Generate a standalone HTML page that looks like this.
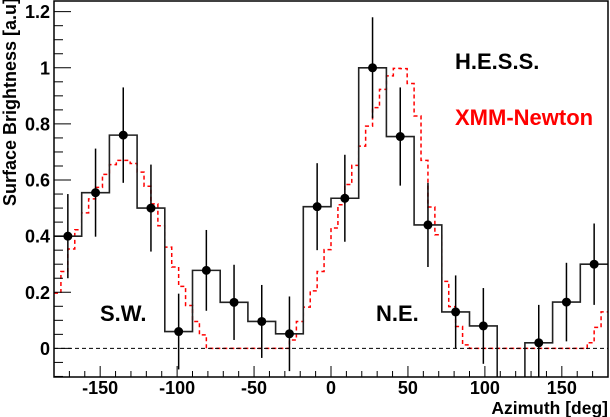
<!DOCTYPE html>
<html><head><meta charset="utf-8">
<style>
html,body{margin:0;padding:0;background:#fff;}
svg{display:block;font-family:"Liberation Sans",Arial,sans-serif;font-weight:bold;}
</style></head>
<body>
<svg id="chart" width="610" height="417" viewBox="0 0 610 417" xmlns="http://www.w3.org/2000/svg">
<defs><clipPath id="pc"><rect x="54" y="1" width="554" height="376"/></clipPath></defs>
<g id="xmm" clip-path="url(#pc)"></g>
<g id="hess" clip-path="url(#pc)"></g>
<g id="axes"></g>
<text transform="translate(16,206) rotate(-90)" font-size="18" fill="#000">Surface Brightness [a.u]</text>
<text x="608" y="414" text-anchor="end" font-size="17.5" fill="#000">Azimuth [deg]</text>
<text x="100" y="321" font-size="22" fill="#000">S.W.</text>
<text x="376" y="321" font-size="22" fill="#000">N.E.</text>
<text x="455" y="69" font-size="22" fill="#000">H.E.S.S.</text>
<text x="455" y="125" font-size="22" fill="#ff0000">XMM-Newton</text>
</svg>
<script>
const hessCenters=[-171,-153,-135,-117,-99,-81,-63,-45,-27,-9,9,27,45,63,81,99,117,135,153,171];
const hessValues=[0.40,0.555,0.76,0.50,0.06,0.278,0.164,0.096,0.052,0.505,0.535,1.0,0.755,0.44,0.13,0.08,-0.3,0.02,0.165,0.30];
const hessErrors=[0.15,0.157,0.17,0.155,0.135,0.144,0.134,0.13,0.133,0.155,0.155,0.18,0.175,0.15,0.13,0.135,0,0.135,0.14,0.145];
const xmmValues=[0.197,0.274,0.354,0.423,0.483,0.533,0.574,0.620,0.655,0.670,0.670,0.659,0.628,0.578,0.515,0.437,0.361,0.290,0.221,0.153,0.096,0.048,
0,0,0,0,0,0,0,0,0,0,0,0,
0.03,0.096,0.147,0.205,0.274,0.352,0.429,0.512,0.584,0.652,0.721,0.792,0.858,0.923,0.971,0.998,0.997,0.944,0.828,0.670,0.504,0.405,0.239,0.149,0.078,0.0125,
0,0,0,0,0,0,0,0,0,0,0,0,0,0,0,0,0,
0.02,0.075,0.13];
const xTicks=[-150,-100,-50,0,50,100,150];
const yTicks=[0,0.2,0.4,0.6,0.8,1,1.2];
const yTickLabels=["0","0.2","0.4","0.6","0.8","1","1.2"];

const NS="http://www.w3.org/2000/svg";
const X0=54,X1=608,Y0=377,Y1=1;
const XMIN=-180,XMAX=180,YMIN=-0.102,YMAX=1.238;
function sx(v){return X0+(v-XMIN)/(XMAX-XMIN)*(X1-X0);}
function sy(v){return Y0-(v-YMIN)/(YMAX-YMIN)*(Y0-Y1);}
function mk(tag,attrs,parent){const e=document.createElementNS(NS,tag);for(const k in attrs)e.setAttribute(k,attrs[k]);parent.appendChild(e);return e;}

const axes=document.getElementById('axes');
const zl=mk('line',{x1:X0,x2:X1,y1:sy(0),y2:sy(0),stroke:'#000','stroke-width':1,'stroke-dasharray':'4,3'},axes);


const fr=mk('rect',{x:X0,y:Y1,width:X1-X0,height:Y0-Y1,fill:'none',stroke:'#000','stroke-width':1.5},axes);


for(let v=-170;v<=170;v+=10){
  const major=(v%50===0);
  const t=mk('line',{x1:sx(v),x2:sx(v),y1:Y0,y2:Y0-(major?11:6),stroke:'#000','stroke-width':1},axes);
  
  
}
xTicks.forEach(v=>{
  const t=mk('text',{x:sx(v),y:394,'text-anchor':'middle','font-size':18,fill:'#000'},axes);
  t.textContent=String(v);
  
  
});
for(let i=-2;i<=24;i++){
  const v=i*0.05;
  const major=(i%4===0);
  const t=mk('line',{x1:X0,x2:X0+(major?17:9),y1:sy(v),y2:sy(v),stroke:'#000','stroke-width':1},axes);
  
  
}
yTicks.forEach((v,i)=>{
  const t=mk('text',{x:50,y:sy(v)+6.5,'text-anchor':'end','font-size':18,fill:'#000'},axes);
  t.textContent=yTickLabels[i];
  
  
});

const xg=document.getElementById('xmm');
const bw=360/xmmValues.length;
let d='';
xmmValues.forEach((v,i)=>{
  const a=sx(-180+i*bw),b=sx(-180+(i+1)*bw),y=sy(v);
  d+=(i===0?'M':'L')+a.toFixed(2)+','+y.toFixed(2)+'L'+b.toFixed(2)+','+y.toFixed(2);
});
const xp=mk('path',{d:d,fill:'none',stroke:'#ff0000','stroke-width':1.5,'stroke-dasharray':'4,3'},xg);



const hg=document.getElementById('hess');
let hd='';
const hw=18;
hessCenters.forEach((c,i)=>{
  const a=sx(c-hw/2),b=sx(c+hw/2),y=sy(hessValues[i]);
  hd+=(i===0?'M':'L')+a.toFixed(2)+','+y.toFixed(2)+'L'+b.toFixed(2)+','+y.toFixed(2);
});
const hp=mk('path',{d:hd,fill:'none',stroke:'#222','stroke-width':1.6},hg);


hessCenters.forEach((c,i)=>{
  if(hessErrors[i]<=0)return;
  const v=hessValues[i],e=hessErrors[i];
  const eb=mk('line',{x1:sx(c),x2:sx(c),y1:sy(v+e),y2:sy(v-e),stroke:'#000','stroke-width':1.5},hg);
  
  
  const p=mk('circle',{cx:sx(c),cy:sy(v),r:4.5,fill:'#000'},hg);
  
  
});
</script>
</body></html>
